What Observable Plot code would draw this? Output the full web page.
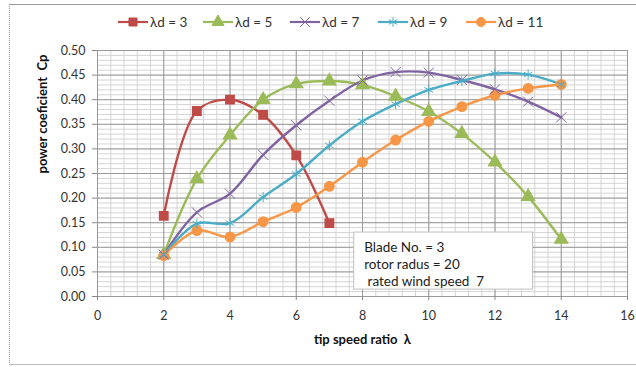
<!DOCTYPE html>
<html><head><meta charset="utf-8">
<script src="https://cdn.jsdelivr.net/npm/d3@7"></script>
<script src="https://cdn.jsdelivr.net/npm/@observablehq/plot@0.6"></script>
<style>
body{margin:0;background:#fff;}
#wrap{position:relative;width:636px;height:367px;overflow:hidden;font-family:Lato,"Open Sans",sans-serif;}
#frame{position:absolute;left:9px;top:4px;width:640px;height:361px;border-left:1px dotted #999;border-top:1px solid #9a9a9a;border-bottom:1px solid #bbb;box-sizing:border-box;}
#legend{position:absolute;left:0;top:11px;}
#chart{position:absolute;left:0;top:40px;}
#chart svg text{white-space:pre;}
</style></head>
<body>
<div id="wrap"><div id="frame"></div><svg id="legend" width="636" height="22"></svg><div id="chart"></div></div>
<script>
// Data
const seriesNames = ["λd = 3", "λd = 5", "λd = 7", "λd = 9", "λd = 11"];
const seriesColors = ["#BE4B48", "#9BBB59", "#8064A2", "#4BACC6", "#F79646"];
const seriesSymbols = ["square", "triangle", "times", "asterisk", "circle"];
const tsr3 = [2, 3, 4, 5, 6, 7];
const cp3 = [0.164, 0.377, 0.400, 0.369, 0.287, 0.149];
const tsrAll = [2, 3, 4, 5, 6, 7, 8, 9, 10, 11, 12, 13, 14];
const cp5 = [0.085, 0.239, 0.328, 0.400, 0.432, 0.438, 0.430, 0.407, 0.376, 0.331, 0.273, 0.203, 0.116];
const cp7 = [0.085, 0.171, 0.209, 0.288, 0.348, 0.398, 0.439, 0.456, 0.455, 0.440, 0.421, 0.396, 0.364];
const cp9 = [0.085, 0.148, 0.149, 0.202, 0.249, 0.307, 0.356, 0.391, 0.420, 0.438, 0.453, 0.451, 0.431];
const cp11 = [0.083, 0.134, 0.121, 0.152, 0.181, 0.224, 0.273, 0.318, 0.356, 0.386, 0.409, 0.423, 0.431];
const xTicks = [0, 2, 4, 6, 8, 10, 12, 14, 16];
const yTicks = [0, 0.05, 0.10, 0.15, 0.20, 0.25, 0.30, 0.35, 0.40, 0.45, 0.50];
const xLabel = "tip speed ratio  λ";
const yLabel = "power coeficient  Cp";
const noteLines = ["Blade No. = 3", "rotor radus = 20", " rated wind speed  7"];
const noteY = [0.0995, 0.065, 0.030];
const noteBox = [{x1: 7.75, x2: 13.15, y1: 0.014, y2: 0.130}];
const noteX = 8.05;

const xs = [tsr3, tsrAll, tsrAll, tsrAll, tsrAll];
const ys = [cp3, cp5, cp7, cp9, cp11];
const data = [];
seriesNames.forEach((s, i) => xs[i].forEach((x, j) => data.push({series: s, x, y: ys[i][j]})));
const notes = noteLines.map((t, i) => ({t, y: noteY[i]}));

const color = {domain: seriesNames, range: seriesColors};
const symbol = {domain: seriesNames, range: seriesSymbols};

const chart = Plot.plot({
  width: 636, height: 327,
  marginLeft: 97, marginRight: 9, marginTop: 10, marginBottom: 71,
  style: {fontFamily: "Lato, 'Open Sans', sans-serif", fontSize: "12.5px", color: "#333", background: "transparent"},
  x: {domain: [0, 16]},
  y: {domain: [0, 0.5]},
  color, symbol,
  marks: [
    Plot.ruleX(d3.range(0, 16.001, 0.4), {stroke: "#d4d4d4", strokeWidth: 1}),
    Plot.ruleY(d3.range(0, 0.5001, 0.01), {stroke: "#d4d4d4", strokeWidth: 1}),
    Plot.ruleX(xTicks, {stroke: "#9a9a9a", strokeWidth: 1}),
    Plot.ruleY(yTicks, {stroke: "#9a9a9a", strokeWidth: 1}),
    Plot.axisX({ticks: xTicks, tickSize: 4, tickPadding: 11, label: null, stroke: "#888"}),
    Plot.axisY({ticks: yTicks, tickSize: 5, tickPadding: 7, tickFormat: d3.format(".2f"), label: null, stroke: "#888"}),
    Plot.rect(noteBox, {x1: "x1", x2: "x2", y1: "y1", y2: "y2", fill: "white", stroke: "#bfbfbf"}),
    Plot.text(notes, {x: noteX, y: "y", text: "t", textAnchor: "start", fontSize: 13.5, fill: "#222"}),
    Plot.line(data, {x: "x", y: "y", z: "series", stroke: "series", curve: "catmull-rom", strokeWidth: 2.4}),
    Plot.dot(data.filter(d => ["λd = 3","λd = 5","λd = 11"].includes(d.series)), {x: "x", y: "y", symbol: "series", fill: "series", stroke: "series", r: 4.7}),
    Plot.dot(data.filter(d => ["λd = 7","λd = 9"].includes(d.series)), {x: "x", y: "y", symbol: "series", stroke: "series", strokeWidth: 1, r: 4.7}),
    Plot.text([xLabel], {frameAnchor: "bottom", dy: 47, fontWeight: "bold", fontSize: 13, fill: "#111"}),
    Plot.text([yLabel], {frameAnchor: "left", dx: -55, rotate: -90, fontWeight: "bold", fontSize: 13, fill: "#111"})
  ]
});
document.getElementById("chart").appendChild(chart);

// Legend
const lg = d3.select("#legend");
const starts = [118, 203, 290, 378, 466];
seriesNames.forEach((s, i) => {
  const g = lg.append("g").attr("transform", `translate(${starts[i]},11)`);
  g.append("line").attr("x1", 0).attr("x2", 30).attr("stroke", seriesColors[i]).attr("stroke-width", 2.2);
  const filled = ["square","triangle","circle"].includes(seriesSymbols[i]);
  const sym = {square: d3.symbolSquare, triangle: d3.symbolTriangle, circle: d3.symbolCircle, times: d3.symbolTimes, asterisk: d3.symbolAsterisk}[seriesSymbols[i]];
  g.append("path").attr("transform", "translate(15,0)").attr("d", d3.symbol(sym, 64)())
    .attr("fill", filled ? seriesColors[i] : "none").attr("stroke", seriesColors[i]);
  g.append("text").attr("x", 32).attr("y", 0).attr("dy", "0.35em").attr("font-size", 13.5).attr("fill", "#333")
    .attr("font-family", "Lato, 'Open Sans', sans-serif").text(s);
});
</script>
</body></html>
